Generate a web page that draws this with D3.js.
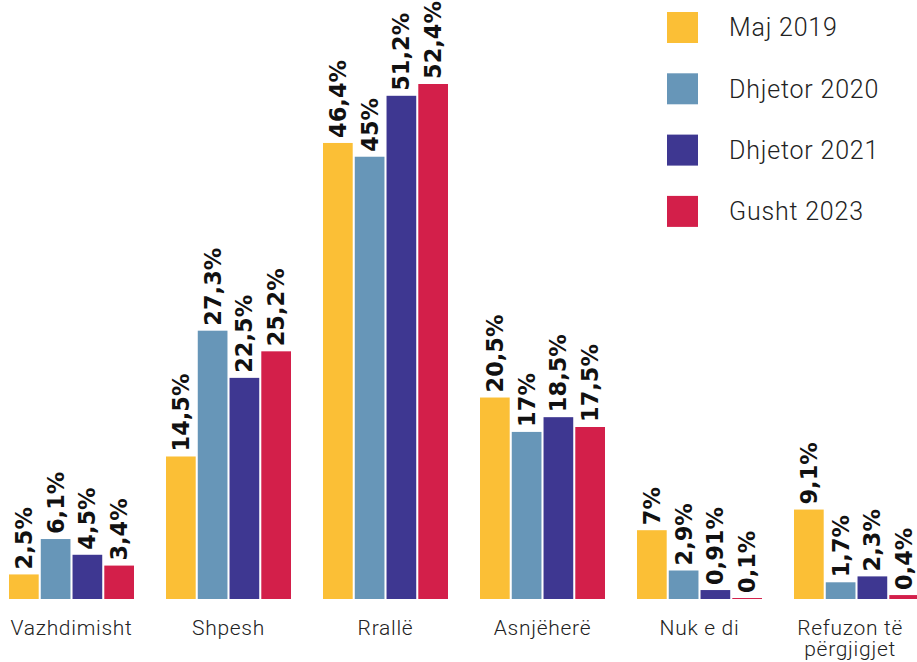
<!DOCTYPE html>
<html>
<head>
<meta charset="utf-8">
<script src="https://cdn.jsdelivr.net/npm/d3@7/dist/d3.min.js"></script>
<style>
  html, body { margin: 0; padding: 0; background: #fff; }
  svg { display: block; }
</style>
</head>
<body>
<svg id="chart" width="917" height="662"></svg>
<script>
// Categories (answer options) and survey waves
const categories = ["Vazhdimisht", "Shpesh", "Rrallë", "Asnjëherë", "Nuk e di", "Refuzon të\npërgjigjet"];
const seriesNames = ["Maj 2019", "Dhjetor 2020", "Dhjetor 2021", "Gusht 2023"];
const seriesColors = ["#FBBF36", "#6796B8", "#3E3791", "#D31F4A"];

// Values in percent, one array per wave, in category order
const maj2019     = [2.5, 14.5, 46.4, 20.5, 7, 9.1];
const dhjetor2020 = [6.1, 27.3, 45, 17, 2.9, 1.7];
const dhjetor2021 = [4.5, 22.5, 51.2, 18.5, 0.91, 2.3];
const gusht2023   = [3.4, 25.2, 52.4, 17.5, 0.1, 0.4];
const seriesValues = [maj2019, dhjetor2020, dhjetor2021, gusht2023];

// Value labels as printed (comma decimal separator)
const fmt = v => String(v).replace(".", ",") + "%";

const svg = d3.select("#chart");
const width = +svg.attr("width");
const baseline = 599;
const groupStep = 157, groupGap = 32;

const x0 = d3.scaleBand()
  .domain(d3.range(categories.length))
  .range([9, 9 + groupStep * categories.length - groupGap])
  .paddingInner(groupGap / groupStep)
  .paddingOuter(0);

const x1 = d3.scaleBand()
  .domain(d3.range(seriesNames.length))
  .range([0, x0.bandwidth()])
  .paddingInner(0.065);

const y = d3.scaleLinear().domain([0, 52.4]).range([baseline, 84]);

const rows = [];
categories.forEach((c, ci) => {
  seriesValues.forEach((vals, si) => rows.push({ ci, si, v: vals[ci] }));
});

const g = svg.append("g");

g.selectAll("rect.bar")
  .data(rows)
  .join("rect")
  .attr("class", "bar")
  .attr("x", d => x0(d.ci) + x1(d.si))
  .attr("width", x1.bandwidth())
  .attr("y", d => y(d.v))
  .attr("height", d => baseline - y(d.v))
  .attr("fill", d => seriesColors[d.si]);

// Rotated value labels above each bar
g.selectAll("text.val")
  .data(rows)
  .join("text")
  .attr("class", "val")
  .attr("transform", d => {
    const cx = x0(d.ci) + x1(d.si) + x1.bandwidth() / 2;
    return `translate(${cx},${y(d.v) - 5}) rotate(-90)`;
  })
  .attr("dy", "0.36em")
  .attr("text-anchor", "start")
  .style("font-family", "'DejaVu Sans', sans-serif")
  .style("font-weight", "bold")
  .style("font-size", "22.5px")
  .style("fill", "#111")
  .text(d => fmt(d.v));

// Category labels under the groups (kept inside the right edge)
const catText = g.selectAll("text.cat")
  .data(categories)
  .join("text")
  .attr("class", "cat")
  .attr("x", (d, i) => x0(i) + x0.bandwidth() / 2)
  .attr("y", 635)
  .attr("text-anchor", "middle")
  .style("font-family", "Roboto, sans-serif")
  .style("font-weight", 300)
  .style("font-size", "21px")
  .style("letter-spacing", "0.7px")
  .style("fill", "#222");

catText.each(function(d) {
  const lines = d.split("\n");
  const t = d3.select(this);
  lines.forEach((l, k) => {
    t.append("tspan")
      .attr("x", t.attr("x"))
      .attr("dy", k === 0 ? 0 : 21)
      .text(l);
  });
  const box = this.getBBox();
  const overflow = box.x + box.width - (width - 14);
  if (overflow > 0) {
    const nx = +t.attr("x") - overflow;
    t.attr("x", nx).selectAll("tspan").attr("x", nx);
  }
});

// Legend
const legend = svg.append("g").attr("transform", "translate(667,12)");
const items = legend.selectAll("g")
  .data(seriesNames)
  .join("g")
  .attr("transform", (d, i) => `translate(0,${i * 61.3})`);

items.append("rect")
  .attr("width", 31)
  .attr("height", 31)
  .attr("fill", (d, i) => seriesColors[i]);

items.append("text")
  .attr("x", 62)
  .attr("y", 15.5)
  .attr("dy", "0.35em")
  .style("font-family", "Roboto, sans-serif")
  .style("font-weight", 300)
  .style("font-size", "25px")
  .style("letter-spacing", "0.8px")
  .style("fill", "#222")
  .text(d => d);
</script>
</body>
</html>
